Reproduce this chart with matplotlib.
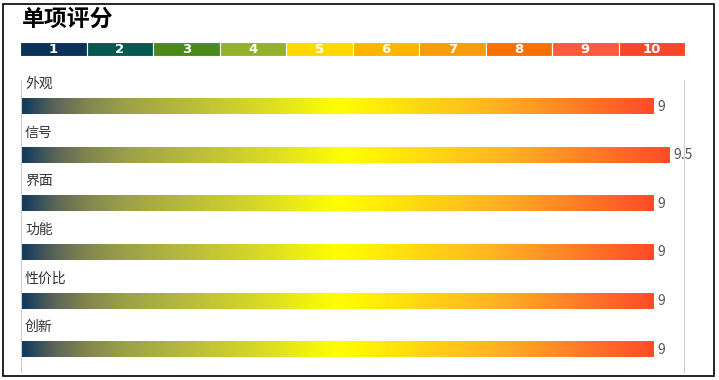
import numpy as np
import matplotlib
matplotlib.use('Agg')
import matplotlib.pyplot as plt
from matplotlib.colors import LinearSegmentedColormap
from matplotlib.patches import Rectangle
from matplotlib.transforms import blended_transform_factory

plt.rcParams['font.family'] = ['Noto Sans CJK SC', 'DejaVu Sans']

# data
categories = ['外观', '信号', '界面', '功能', '性价比', '创新']
scores = [9, 9.5, 9, 9, 9, 9]
scale_labels = ['1', '2', '3', '4', '5', '6', '7', '8', '9', '10']
scale_colors = ['#0b3358', '#035a50', '#4c8a18', '#93b12a', '#ffd800',
                '#ffb400', '#f69d0c', '#f67100', '#fb5b3a', '#f8472a']
title = '单项评分'

x_lo, x_hi = -10.8, 9.95
W, H = 719, 380

fig = plt.figure(figsize=(W / 100, H / 100), dpi=100)
fig.patches.append(Rectangle((3 / W, 4 / H), 711 / W, 372 / H, transform=fig.transFigure,
                             fill=False, edgecolor='black', linewidth=1.2))

fig.text(22 / W, 1 - 19 / H, title, fontsize=16.5, fontweight='bold', va='center', ha='left',
         color='black')

# scale strip
lax = fig.add_axes([20 / W, 1 - 56 / H, 665 / W, 14 / H])
for i, (lab, c) in enumerate(zip(scale_labels, scale_colors)):
    lax.bar(i, 1, width=1, align='edge', color=c, edgecolor='white', linewidth=0.8)
    lax.text(i + 0.5, 0.45, lab, color='white', fontsize=9.5, ha='center', va='center',
             family='Liberation Sans Narrow', fontweight='bold')
lax.set_xlim(0, len(scale_labels))
lax.set_ylim(0, 1)
lax.axis('off')

# bars with gradient fill
ax = fig.add_axes([21 / W, 8 / H, 663 / W, 292 / H])
stops = [(0, '#0e3a5e'), (0.05, '#5a6358'), (0.1, '#80844f'), (0.16, '#9aa048'),
         (0.25, '#b4b83e'), (0.38, '#d9da26'), (0.5, '#ffff00'), (0.75, '#ffb322'),
         (1, '#ff4b2a')]
cmap = LinearSegmentedColormap.from_list('g', stops)
grad = np.linspace(0, 1, 512).reshape(1, -1)
bh = 0.31
lab_tr = blended_transform_factory(ax.transAxes, ax.transData)
for i, (cat, v) in enumerate(zip(categories, scores)):
    ax.imshow(grad, cmap=cmap, aspect='auto', extent=(x_lo, v, i + bh / 2, i - bh / 2),
              interpolation='bilinear', zorder=2)
    ax.annotate(str(v), (v, i), xytext=(3, 0), textcoords='offset points',
                fontsize=10, color='#555555', va='center', ha='left')
    ax.text(4 / 663, i - 0.46, cat, fontsize=10, color='#333333', va='center', ha='left',
            transform=lab_tr)

ax.set_xlim(x_lo, x_hi)
ax.set_ylim(5.46, -0.545)
for s in ['top', 'bottom']:
    ax.spines[s].set_visible(False)
for s in ['left', 'right']:
    ax.spines[s].set_color('#cccccc')
ax.set_xticks([])
ax.set_yticks([])

fig.savefig('out.png', dpi=100)
